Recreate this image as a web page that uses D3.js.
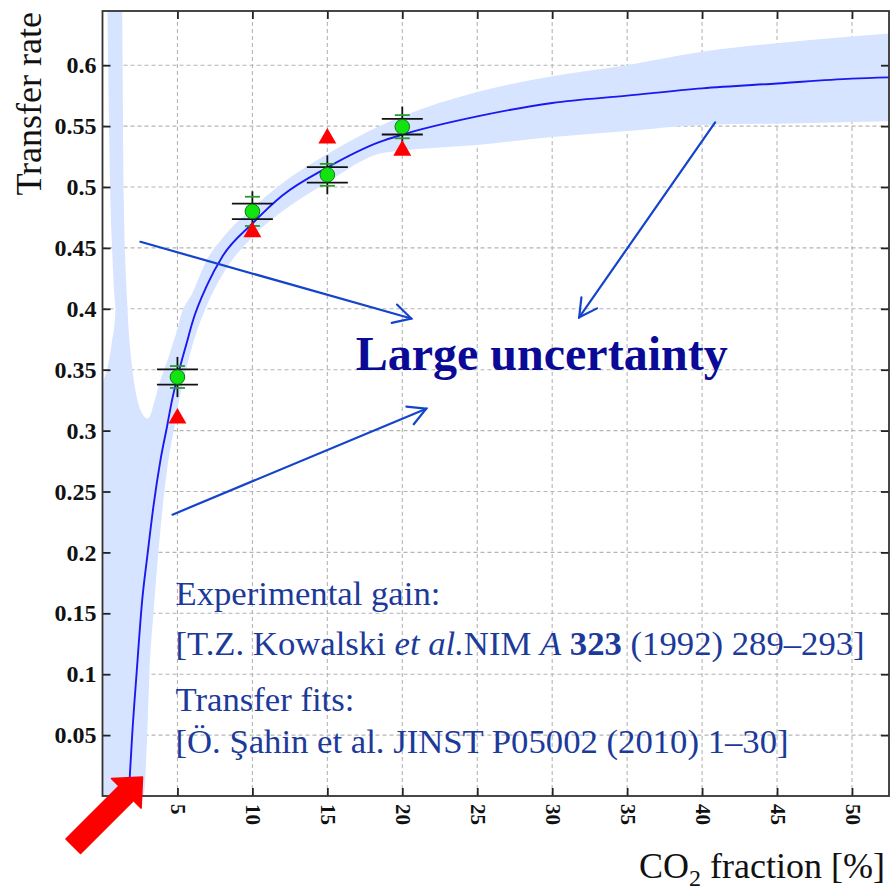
<!DOCTYPE html>
<html>
<head>
<meta charset="utf-8">
<script src="https://cdn.jsdelivr.net/npm/d3@7"></script>
<style>
  html, body { margin: 0; padding: 0; background: #fff; }
  svg { display: block; }
  .tick text { font-family: 'Liberation Serif', 'Times New Roman', serif; }
</style>
</head>
<body>
<svg id="chart" width="890" height="891"></svg>
<script>
// ---- data -------------------------------------------------------------
// measured points (CO2 %, transfer rate)
const co2Fraction   = [5, 10, 15, 20];
const measuredRate  = [0.344, 0.480, 0.510, 0.5495];
const totalErr      = [0.0165, 0.0165, 0.016, 0.0165];
const systErr       = [0.0062, 0.0064, 0.0064, 0.0064];
const statErr       = [0.009, 0.012, 0.009, 0.0095];
// rates predicted from the gain fit
const predictedRate = [0.310, 0.463, 0.540, 0.530];

// fitted transfer-rate curve
const fitX = [1.73, 1.82, 1.98, 2.27, 2.65, 3.0, 3.4, 3.87, 4.3, 4.64, 5, 5.64, 6, 7, 8, 10, 12, 15, 18.5, 20, 25, 30, 35, 40, 45, 50, 52.5];
const fitY = [0.0, 0.016, 0.05, 0.10, 0.161, 0.198, 0.238, 0.276, 0.303, 0.325, 0.344, 0.373, 0.389, 0.42, 0.443, 0.470, 0.493, 0.516, 0.537, 0.543, 0.558, 0.569, 0.575, 0.581, 0.585, 0.589, 0.590];

// uncertainty band of the fit
const bandX     = [0, 0.3, 0.6, 0.87, 0.88, 1.28, 1.33, 1.42, 1.64, 1.98, 2.33, 2.65, 2.75, 2.98, 3.13, 3.4, 3.8, 4.4, 4.75, 5, 5.2, 6, 7, 8, 10, 12, 15, 18.5, 20, 25, 30, 35, 40, 45, 52.5];
const bandUpper = [0.34, 0.35, 0.37, 0.40, 0.70, 0.70, 0.62, 0.489, 0.407, 0.352, 0.325, 0.314, 0.312, 0.310, 0.311, 0.321, 0.339, 0.360, 0.374, 0.383, 0.393, 0.413, 0.441, 0.458, 0.4825, 0.503, 0.527, 0.550, 0.558, 0.578, 0.591, 0.600, 0.611, 0.618, 0.626];
const bandLower = [0, 0, 0, 0, 0, 0, 0, 0, 0, 0, 0, 0, 0, 0.05, 0.10, 0.15, 0.21, 0.276, 0.300, 0.318, 0.330, 0.370, 0.404, 0.428, 0.459, 0.480, 0.504, 0.5275, 0.530, 0.5345, 0.541, 0.546, 0.551, 0.552, 0.554];
// narrow spur of the band close to zero CO2
const spurX     = [0.28, 0.33, 0.45, 0.53, 0.64, 0.8, 0.9];
const spurLower = [0.70, 0.645, 0.54, 0.489, 0.45, 0.41, 0.40];
const spurUpper = [0.70, 0.70, 0.70, 0.70, 0.70, 0.70, 0.70];

// axis ticks
const fracTicks      = [5, 10, 15, 20, 25, 30, 35, 40, 45, 50];
const fracTickLabels = ["5", "10", "15", "20", "25", "30", "35", "40", "45", "50"];
const rateTicks      = [0.05, 0.1, 0.15, 0.2, 0.25, 0.3, 0.35, 0.4, 0.45, 0.5, 0.55, 0.6];
const rateTickLabels = ["0.05", "0.1", "0.15", "0.2", "0.25", "0.3", "0.35", "0.4", "0.45", "0.5", "0.55", "0.6"];

// ---- layout -----------------------------------------------------------
const svg = d3.select("#chart");
const serif = "'Liberation Serif', 'Times New Roman', serif";

const x = d3.scaleLinear().domain([0, 52.47]).range([102.5, 889]);
const y = d3.scaleLinear().domain([0, 0.6445]).range([796, 11]);
const [x0, x1] = x.range();
const [y0, y1] = y.range();

svg.append("defs").append("clipPath").attr("id", "plotClip")
  .append("rect").attr("x", x0).attr("y", y1).attr("width", x1 - x0).attr("height", y0 - y1);

// grid
const grid = svg.append("g").attr("stroke", "#b5b5b5").attr("stroke-width", 1.1).attr("stroke-dasharray", "4,3");
grid.selectAll("line.v").data(fracTicks).join("line").attr("class", "v")
  .attr("x1", d => x(d)).attr("x2", d => x(d)).attr("y1", y0).attr("y2", y1);
grid.selectAll("line.h").data(rateTicks).join("line").attr("class", "h")
  .attr("y1", d => y(d)).attr("y2", d => y(d)).attr("x1", x0).attr("x2", x1);

// band
const plot = svg.append("g").attr("clip-path", "url(#plotClip)");
const bandArea = d3.area().curve(d3.curveMonotoneX)
  .x(i => x(bandX[i])).y0(i => y(bandLower[i])).y1(i => y(bandUpper[i]));
plot.append("path").attr("d", bandArea(d3.range(bandX.length))).attr("fill", "#d6e4ff");
const spurArea = d3.area().curve(d3.curveMonotoneX)
  .x(i => x(spurX[i])).y0(i => y(spurLower[i])).y1(i => y(spurUpper[i]));
plot.append("path").attr("d", spurArea(d3.range(spurX.length))).attr("fill", "#d6e4ff");

// fit curve
const fitLine = d3.line().curve(d3.curveMonotoneX).x(i => x(fitX[i])).y(i => y(fitY[i]));
plot.append("path").attr("d", fitLine(d3.range(fitX.length)))
  .attr("fill", "none").attr("stroke", "#1a1af0").attr("stroke-width", 1.9);

// axes (ticks point inwards on all four sides)
function styleAxis(g, size) {
  g.attr("font-family", serif).attr("font-size", size);
  g.select(".domain").remove();
  g.selectAll(".tick line").attr("stroke", "#222").attr("stroke-width", 1.8);
  g.selectAll("text").attr("fill", "#111").attr("font-size", size).attr("font-weight", "bold");
}
const axB = svg.append("g").attr("transform", `translate(0,${y0})`)
  .call(d3.axisBottom(x).tickValues(fracTicks).tickFormat((d, i) => fracTickLabels[i]).tickSizeInner(-8).tickSizeOuter(0).tickPadding(8));
styleAxis(axB, 21);
axB.selectAll("text")
  .attr("transform", "rotate(90)").attr("x", 8).attr("y", 0).attr("dy", "0.33em").attr("text-anchor", "start");

const axL = svg.append("g").attr("transform", `translate(${x0},0)`)
  .call(d3.axisLeft(y).tickValues(rateTicks).tickFormat((d, i) => rateTickLabels[i]).tickSizeInner(-8).tickSizeOuter(0).tickPadding(6));
styleAxis(axL, 24);

const axT = svg.append("g").attr("transform", `translate(0,${y1})`)
  .call(d3.axisTop(x).tickValues(fracTicks).tickFormat("").tickSizeInner(-8).tickSizeOuter(0));
styleAxis(axT, 24);
const axR = svg.append("g").attr("transform", `translate(${x1},0)`)
  .call(d3.axisRight(y).tickValues(rateTicks).tickFormat("").tickSizeInner(-8).tickSizeOuter(0));
styleAxis(axR, 24);

svg.append("rect").attr("x", x0).attr("y", y1).attr("width", x1 - x0).attr("height", y0 - y1)
  .attr("fill", "none").attr("stroke", "#333").attr("stroke-width", 1.8);

// axis titles
svg.append("text").attr("transform", "translate(41,12) rotate(-90)")
  .attr("text-anchor", "end").style("font-family", serif).style("font-size", "36px").attr("fill", "#111")
  .text("Transfer rate");
const xt = svg.append("text").attr("x", 885).attr("y", 878).attr("text-anchor", "end")
  .style("font-family", serif).style("font-size", "36px").attr("fill", "#111");
xt.append("tspan").text("CO");
xt.append("tspan").attr("dy", 8).style("font-size", "24px").text("2");
xt.append("tspan").attr("dy", -8).text(" fraction [%]");

// annotation arrows (data coordinates)
const arrows = [
  {from: [2.53, 0.455], to: [20.6, 0.392]},
  {from: [40.87, 0.553], to: [31.8, 0.393]},
  {from: [4.67, 0.231], to: [21.6, 0.318]}
];
const arrowColor = "#1444cc";
const ag = svg.append("g").attr("stroke", arrowColor).attr("stroke-width", 2.2).attr("fill", "none").attr("stroke-linecap", "round");
arrows.forEach(a => {
  const sx = x(a.from[0]), sy = y(a.from[1]), tx = x(a.to[0]), ty = y(a.to[1]);
  ag.append("line").attr("x1", sx).attr("y1", sy).attr("x2", tx).attr("y2", ty);
  const ang = Math.atan2(ty - sy, tx - sx), len = 20, spread = 28.5 * Math.PI / 180;
  const p1 = [tx - len * Math.cos(ang - spread), ty - len * Math.sin(ang - spread)];
  const p2 = [tx - len * Math.cos(ang + spread), ty - len * Math.sin(ang + spread)];
  ag.append("path").attr("d", `M${p1[0]},${p1[1]}L${tx},${ty}L${p2[0]},${p2[1]}`);
});

// measured points with error bars
const pts = svg.append("g");
co2Fraction.forEach((c, i) => {
  const cx = x(c), v = measuredRate[i];
  pts.append("line").attr("x1", cx).attr("x2", cx).attr("y1", y(v - totalErr[i])).attr("y2", y(v + totalErr[i]))
    .attr("stroke", "#111").attr("stroke-width", 1.8);
  [-1, 1].forEach(s => {
    pts.append("line").attr("x1", cx - 20.5).attr("x2", cx + 20.5)
      .attr("y1", y(v + s * systErr[i])).attr("y2", y(v + s * systErr[i]))
      .attr("stroke", "#111").attr("stroke-width", 1.8);
    pts.append("line").attr("x1", cx - 7.5).attr("x2", cx + 7.5)
      .attr("y1", y(v + s * statErr[i])).attr("y2", y(v + s * statErr[i]))
      .attr("stroke", "#2a9a2a").attr("stroke-width", 1.8);
  });
  pts.append("circle").attr("cx", cx).attr("cy", y(v)).attr("r", 7.3)
    .attr("fill", "#12e412").attr("stroke", "#0b7a0b").attr("stroke-width", 1);
});
pts.selectAll("path.pred").data(predictedRate).join("path").attr("class", "pred")
  .attr("d", d3.symbol(d3.symbolTriangle, 140))
  .attr("transform", (d, i) => `translate(${x(co2Fraction[i])},${y(d)})`)
  .attr("fill", "#ff0000");

// text annotations
svg.append("text").attr("x", x(29.3)).attr("y", y(0.3498)).attr("text-anchor", "middle")
  .style("font-family", serif).style("font-size", "48px").style("font-weight", "bold").attr("fill", "#0a0a96")
  .text("Large uncertainty");

const refColor = "#1c3a9a";
const refs = svg.append("g").style("font-family", serif).style("font-size", "34.7px").attr("fill", refColor);
refs.append("text").attr("x", x(4.87)).attr("y", y(0.1568)).text("Experimental gain:");
const r2 = refs.append("text").attr("x", x(4.87)).attr("y", y(0.1158));
r2.append("tspan").text("[T.Z. Kowalski ");
r2.append("tspan").style("font-style", "italic").text("et al.");
r2.append("tspan").text("NIM ");
r2.append("tspan").style("font-style", "italic").text("A");
r2.append("tspan").text(" ");
r2.append("tspan").style("font-weight", "bold").text("323");
r2.append("tspan").text(" (1992) 289\u2013293]");
refs.append("text").attr("x", x(4.87)).attr("y", y(0.0698)).text("Transfer fits:");
refs.append("text").attr("x", x(4.87)).attr("y", y(0.0353)).text("[\u00d6. \u015eahin et al. JINST P05002 (2010) 1\u201330]");

// red pointer at the onset of the fit
const tipX = x(2.67), tipY = y(0.0156);
const dir = [-Math.SQRT1_2, Math.SQRT1_2];   // towards lower-left
const nrm = [dir[1], -dir[0]];
const headLen = 23, headHalf = 21, shaftHalf = 10.3, shaftLen = 75;
const bx = tipX + dir[0] * headLen, by = tipY + dir[1] * headLen;
const ex = bx + dir[0] * shaftLen, ey = by + dir[1] * shaftLen;
const redPts = [
  [tipX, tipY],
  [bx + nrm[0] * headHalf, by + nrm[1] * headHalf],
  [bx + nrm[0] * shaftHalf, by + nrm[1] * shaftHalf],
  [ex + nrm[0] * shaftHalf, ey + nrm[1] * shaftHalf],
  [ex - nrm[0] * shaftHalf, ey - nrm[1] * shaftHalf],
  [bx - nrm[0] * shaftHalf, by - nrm[1] * shaftHalf],
  [bx - nrm[0] * headHalf, by - nrm[1] * headHalf]
];
svg.append("path").attr("d", "M" + redPts.map(p => p.join(",")).join("L") + "Z")
  .attr("fill", "#ff0000").attr("stroke", "#ff0000").attr("stroke-width", 1.5).attr("stroke-linejoin", "round");
</script>
</body>
</html>
